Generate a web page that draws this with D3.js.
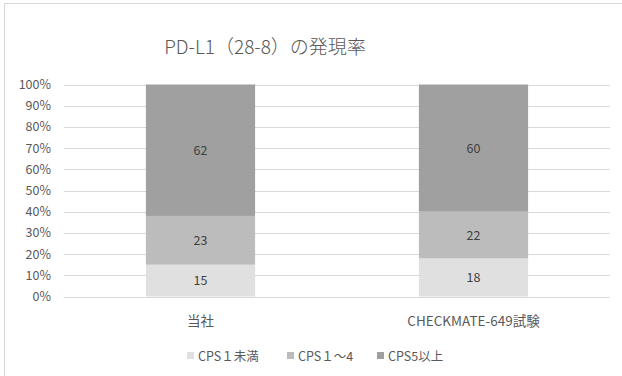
<!DOCTYPE html>
<html>
<head>
<meta charset="utf-8">
<script src="https://cdn.jsdelivr.net/npm/d3@7"></script>
<style>
  html, body { margin: 0; padding: 0; background: #fff; }
  svg { display: block; }
  text { font-family: "Noto Sans CJK JP", "Noto Sans", sans-serif; fill: #595959; }
</style>
</head>
<body>
<svg id="chart" width="622" height="376"></svg>
<script>
// Data
const categories = ["当社", "CHECKMATE-649試験"];
const seriesNames = ["CPS１未満", "CPS１～4", "CPS5以上"];
const seriesColors = ["#e0e0e0", "#bcbcbc", "#a0a0a0"];
const cpsUnder1 = [15, 18];
const cps1to4 = [23, 22];
const cps5plus = [62, 60];
const yTicks = [0, 10, 20, 30, 40, 50, 60, 70, 80, 90, 100];
const title = "PD-L1（28-8）の発現率";

const seriesValues = [cpsUnder1, cps1to4, cps5plus];
const rows = categories.map((c, i) => {
  const r = { category: c };
  seriesNames.forEach((s, j) => { r[s] = seriesValues[j][i]; });
  return r;
});

const svg = d3.select("#chart");
const W = 622, H = 376;
const margin = { left: 64, right: 12, top: 84.5, bottom: 79 };
const font = '"Noto Sans CJK JP", "Noto Sans", sans-serif';

// Chart area outline
svg.append("rect")
  .attr("x", 4.5).attr("y", 3.5)
  .attr("width", W + 10).attr("height", H + 10)
  .attr("fill", "#fff").attr("stroke", "#d9d9d9").attr("stroke-width", 1);

svg.append("text")
  .attr("x", 265).attr("y", 54)
  .attr("text-anchor", "middle")
  .attr("font-size", 19)
  .attr("font-weight", 300)
  .text(title);

const x = d3.scaleBand()
  .domain(categories)
  .range([margin.left, W - margin.right])
  .paddingInner(0.6).paddingOuter(0.3);

const y = d3.scaleLinear()
  .domain([0, 100])
  .range([296.5, margin.top]);

// Gridlines
svg.append("g").selectAll("line")
  .data(yTicks).join("line")
  .attr("x1", margin.left).attr("x2", W - margin.right)
  .attr("y1", d => Math.round(y(d)) + 0.5).attr("y2", d => Math.round(y(d)) + 0.5)
  .attr("stroke", "#d9d9d9").attr("stroke-width", 1);

// Y axis labels
const yAxis = d3.axisLeft(y).tickValues(yTicks).tickSize(0).tickPadding(13).tickFormat(d => d + "%");
const gy = svg.append("g").attr("transform", `translate(${margin.left},0)`).call(yAxis);
gy.select(".domain").remove();
gy.selectAll("text").attr("font-size", 12.5).style("font-family", font).attr("fill", "#595959");

// Stacked bars
const stack = d3.stack().keys(seriesNames);
const stacked = stack(rows);

const layers = svg.append("g").selectAll("g")
  .data(stacked).join("g")
  .attr("fill", (d, i) => seriesColors[i]);

layers.selectAll("rect")
  .data(d => d).join("rect")
  .attr("x", d => x(d.data.category))
  .attr("width", x.bandwidth())
  .attr("y", d => y(d[1]))
  .attr("height", d => y(d[0]) - y(d[1]));

// Value labels
layers.selectAll("text")
  .data(d => d).join("text")
  .attr("x", d => x(d.data.category) + x.bandwidth() / 2)
  .attr("y", d => y((d[0] + d[1]) / 2))
  .attr("dy", "0.36em")
  .attr("text-anchor", "middle")
  .attr("font-size", 12.5)
  .style("fill", "#404040")
  .text(d => d[1] - d[0]);

// Category axis
const xAxis = d3.axisBottom(x).tickSize(0).tickPadding(20);
const gx = svg.append("g").attr("transform", `translate(0,${y(0)})`).call(xAxis);
gx.select(".domain").remove();
gx.selectAll("text").attr("font-size", 13.5).style("font-family", font).attr("fill", "#595959");

// Legend
const legendX = [187, 287, 377];
const legend = svg.append("g").selectAll("g")
  .data(seriesNames).join("g")
  .attr("transform", (d, i) => `translate(${legendX[i]},356)`);
legend.append("rect")
  .attr("x", 0).attr("y", -4).attr("width", 7).attr("height", 7)
  .attr("fill", (d, i) => seriesColors[i]);
legend.append("text")
  .attr("x", 11).attr("y", 0).attr("dy", "0.36em")
  .attr("font-size", 12.5)
  .text(d => d);
</script>
</body>
</html>
